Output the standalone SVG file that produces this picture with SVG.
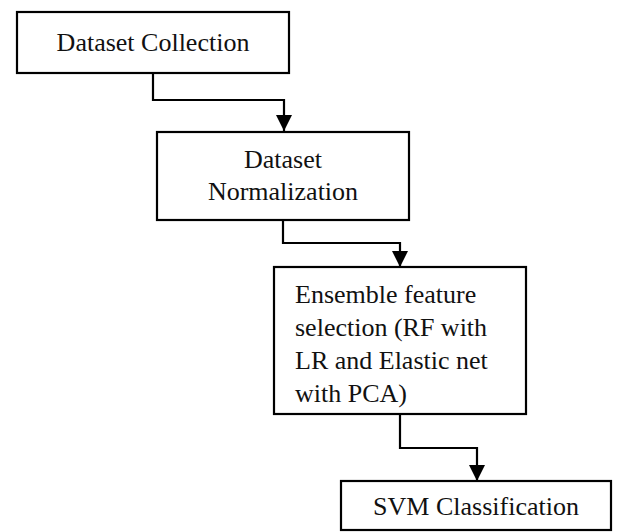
<svg xmlns="http://www.w3.org/2000/svg" width="617" height="532" viewBox="0 0 617 532">
<style>
.box{fill:#fff;stroke:#000;stroke-width:2.2}
.t{font-family:"Liberation Serif","Times New Roman",serif;font-size:26px;fill:#111}
.c{fill:none;stroke:#000;stroke-width:2.2}
</style>
<defs>
<marker id="ah" markerUnits="userSpaceOnUse" markerWidth="16" markerHeight="18" refX="16" refY="8" orient="auto" viewBox="0 0 16 16">
<path d="M0,0 L16,8 L0,16 Z" fill="#000"/>
</marker>
</defs>
<rect width="617" height="532" fill="#fff"/>
<g id="connectors">
<path class="c" d="M153,73 V100 H284 V131" marker-end="url(#ah)"/>
<path class="c" d="M283,220 V243 H400 V267" marker-end="url(#ah)"/>
<path class="c" d="M400,414 V448 H477 V481" marker-end="url(#ah)"/>
</g>
<g id="n1">
<rect class="box" x="17" y="12" width="272" height="61"/>
<text class="t" x="153" y="51" text-anchor="middle">Dataset Collection</text>
</g>
<g id="n2">
<rect class="box" x="157" y="132" width="252" height="88"/>
<text class="t" x="283" y="168" text-anchor="middle">Dataset</text>
<text class="t" x="283" y="200" text-anchor="middle">Normalization</text>
</g>
<g id="n3">
<rect class="box" x="274" y="267" width="252" height="147"/>
<text class="t" x="295" y="303">Ensemble feature</text>
<text class="t" x="295" y="336">selection (RF with</text>
<text class="t" x="295" y="369">LR and Elastic net</text>
<text class="t" x="295" y="402">with PCA)</text>
</g>
<g id="n4">
<rect class="box" x="341" y="481" width="270" height="49"/>
<text class="t" x="476" y="515" text-anchor="middle">SVM Classification</text>
</g>
</svg>
